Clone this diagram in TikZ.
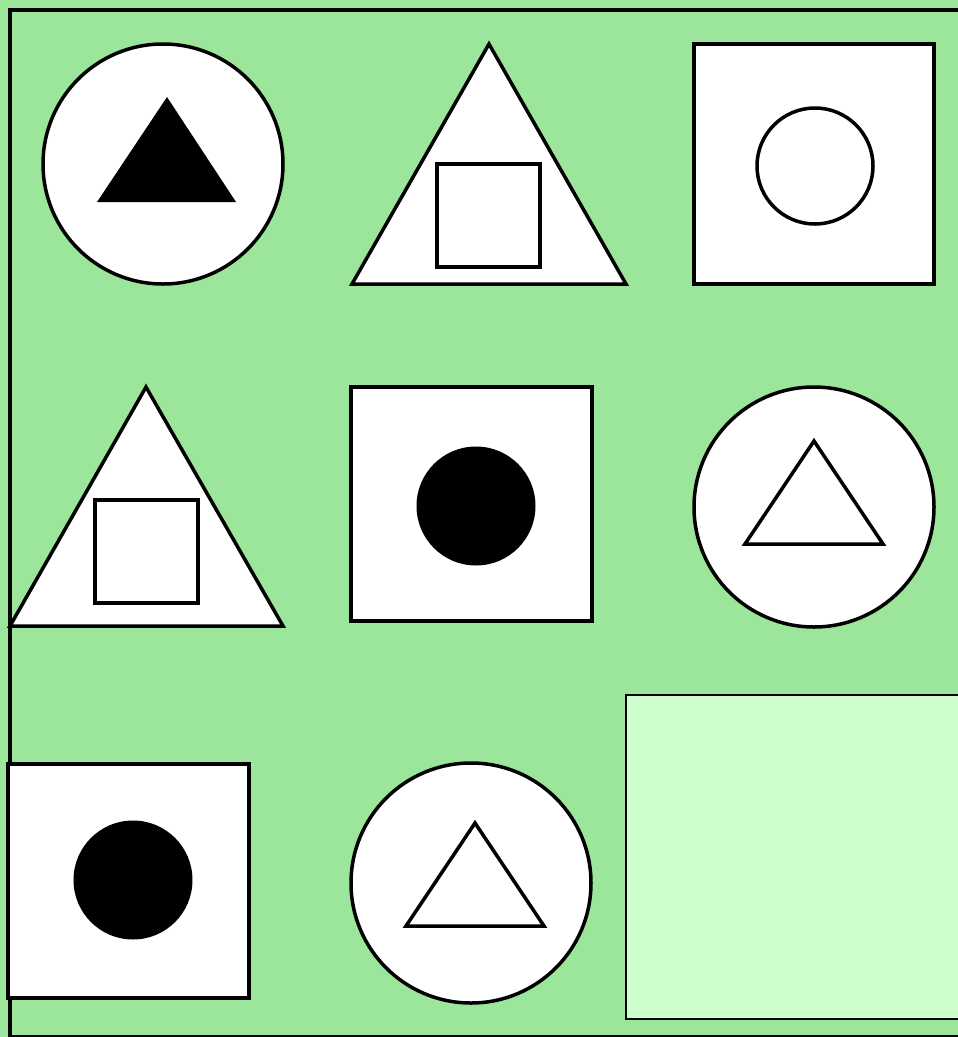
\documentclass[tikz,border=0pt]{standalone}
\begin{document}
\begin{tikzpicture}[x=1pt,y=-1pt,
  shp/.style={draw=black,line width=3.5pt,fill=white},
  solid/.style={fill=black,draw=none},
  inner/.style={draw=black,line width=3.5pt,fill=none}]
\definecolor{bggreen}{RGB}{156,230,156}
\definecolor{lightgreen}{RGB}{204,255,204}
\useasboundingbox (0,0) rectangle (958,1037);
\fill[bggreen] (0,0) rectangle (958,1037);
\draw[line width=3.5pt] (10,1037) -- (10,10) -- (958,10);
\draw[line width=2pt] (10,1036) -- (958,1036);
% row 1
\node[shp,circle,minimum size=240pt,inner sep=0pt] (c1) at (163,164) {};
\fill[solid] (97,202) -- (236,202) -- (167,97) -- cycle;
\draw[shp] (352,284) -- (626,284) -- (489,44) -- cycle;
\draw[inner] (437,164) rectangle (540,267);
\draw[shp] (694,44) rectangle (934,284);
\node[inner,circle,minimum size=116pt,inner sep=0pt] (c2) at (815,166) {};
% row 2
\draw[shp] (10,626) -- (283,626) -- (146,387) -- cycle;
\draw[inner] (95,500) rectangle (198,603);
\draw[shp] (351,387) rectangle (592,621);
\node[solid,circle,minimum size=119pt,inner sep=0pt] (c3) at (476,506) {};
\node[shp,circle,minimum size=240pt,inner sep=0pt] (c4) at (814,507) {};
\draw[inner] (745,544) -- (883,544) -- (814,441) -- cycle;
% row 3
\draw[shp] (8,764) rectangle (249,998);
\node[solid,circle,minimum size=119pt,inner sep=0pt] (c5) at (133,880) {};
\node[shp,circle,minimum size=240pt,inner sep=0pt] (c6) at (471,883) {};
\draw[inner] (406,926) -- (544,926) -- (475,823) -- cycle;
\draw[fill=lightgreen,draw=black,line width=1.5pt] (626,695) rectangle (965,1019);
\end{tikzpicture}
\end{document}
